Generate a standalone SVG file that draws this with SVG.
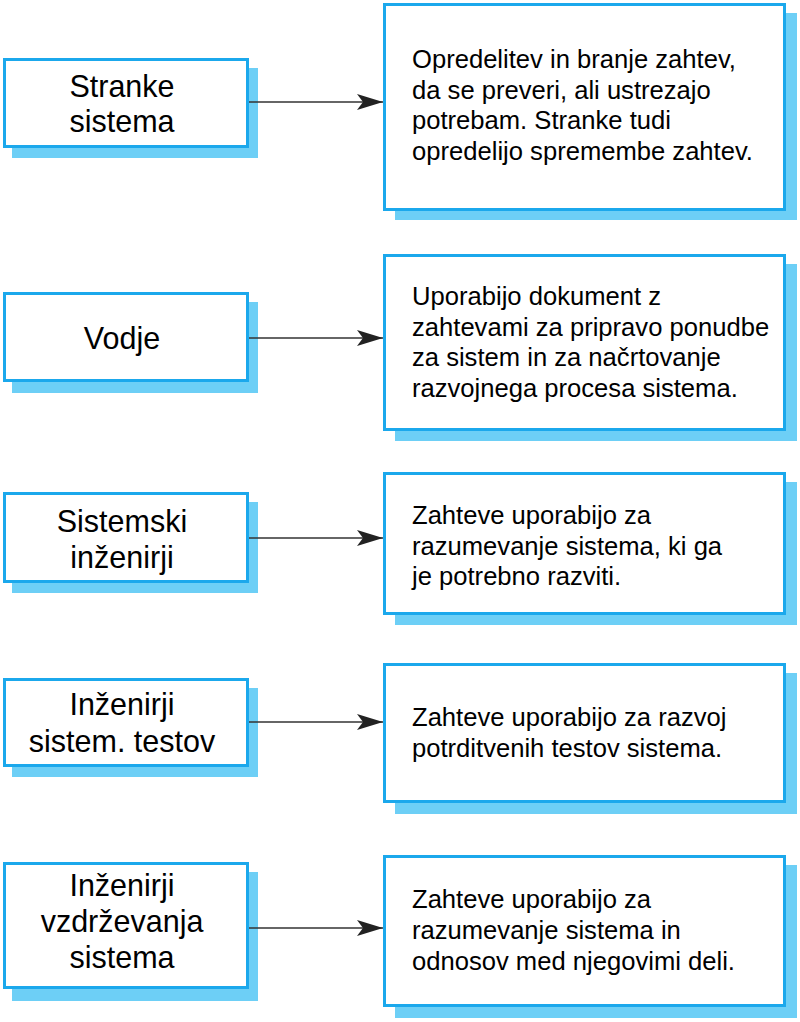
<svg xmlns="http://www.w3.org/2000/svg" width="800" height="1022" viewBox="0 0 800 1022">
<defs>
<style>
.bg{fill:#ffffff}
.shadow{fill:#6dcff6}
.box{fill:#ffffff;stroke:#1ba8ec;stroke-width:3}
.lt{font-family:"Liberation Sans",Arial,Helvetica,sans-serif;font-size:30.5px;fill:#000;text-anchor:middle}
.rt{font-family:"Liberation Sans",Arial,Helvetica,sans-serif;font-size:25.6px;fill:#000}
.conn{stroke:#333333;stroke-width:1.6;fill:none;marker-end:url(#arr)}
</style>
<marker id="arr" markerUnits="userSpaceOnUse" markerWidth="26" markerHeight="16" refX="26" refY="8" orient="auto">
<path d="M0,0 L26,8 L0,16 L6,8 Z" fill="#222222"/>
</marker>
</defs>
<rect class="bg" x="0" y="0" width="800" height="1022"/>

<g id="stranke">
<rect class="shadow" x="12" y="68" width="246" height="90"/>
<rect class="box" x="4.5" y="59.5" width="243" height="87"/>
<text class="lt" x="122" y="97">Stranke</text>
<text class="lt" x="122" y="132">sistema</text>
</g>
<g id="stranke-desc">
<rect class="shadow" x="395" y="13" width="402" height="207"/>
<rect class="box" x="384.5" y="4.5" width="400" height="205"/>
<text class="rt" x="412" y="68">Opredelitev in branje zahtev,</text>
<text class="rt" x="412" y="99">da se preveri, ali ustrezajo</text>
<text class="rt" x="412" y="129">potrebam. Stranke tudi</text>
<text class="rt" x="412" y="160">opredelijo spremembe zahtev.</text>
</g>

<g id="vodje">
<rect class="shadow" x="12" y="302" width="246" height="91"/>
<rect class="box" x="4.5" y="293.5" width="243" height="87"/>
<text class="lt" x="122" y="349">Vodje</text>
</g>
<g id="vodje-desc">
<rect class="shadow" x="395" y="264" width="402" height="177"/>
<rect class="box" x="384.5" y="255.5" width="400" height="174"/>
<text class="rt" x="412" y="305">Uporabijo dokument z</text>
<text class="rt" x="412" y="336">zahtevami za pripravo ponudbe</text>
<text class="rt" x="412" y="366">za sistem in za načrtovanje</text>
<text class="rt" x="412" y="397">razvojnega procesa sistema.</text>
</g>

<g id="sistemski">
<rect class="shadow" x="12" y="502" width="246" height="91"/>
<rect class="box" x="4.5" y="493.5" width="243" height="88"/>
<text class="lt" x="122" y="532">Sistemski</text>
<text class="lt" x="122" y="568">inženirji</text>
</g>
<g id="sistemski-desc">
<rect class="shadow" x="395" y="482" width="402" height="143"/>
<rect class="box" x="384.5" y="473.5" width="400" height="140"/>
<text class="rt" x="412" y="524">Zahteve uporabijo za</text>
<text class="rt" x="412" y="555">razumevanje sistema, ki ga</text>
<text class="rt" x="412" y="585">je potrebno razviti.</text>
</g>

<g id="testni">
<rect class="shadow" x="12" y="688" width="246" height="89"/>
<rect class="box" x="4.5" y="679.5" width="243" height="86"/>
<text class="lt" x="122" y="715">Inženirji</text>
<text class="lt" x="122" y="752">sistem. testov</text>
</g>
<g id="testni-desc">
<rect class="shadow" x="395" y="673" width="402" height="141"/>
<rect class="box" x="384.5" y="664.5" width="400" height="137"/>
<text class="rt" x="412" y="726">Zahteve uporabijo za razvoj</text>
<text class="rt" x="412" y="757">potrditvenih testov sistema.</text>
</g>

<g id="vzdrzevanje">
<rect class="shadow" x="12" y="872" width="246" height="129"/>
<rect class="box" x="4.5" y="863.5" width="243" height="124"/>
<text class="lt" x="122" y="896">Inženirji</text>
<text class="lt" x="122" y="932">vzdrževanja</text>
<text class="lt" x="122" y="968">sistema</text>
</g>
<g id="vzdrzevanje-desc">
<rect class="shadow" x="395" y="865" width="402" height="153"/>
<rect class="box" x="384.5" y="856.5" width="400" height="149"/>
<text class="rt" x="412" y="908">Zahteve uporabijo za</text>
<text class="rt" x="412" y="939">razumevanje sistema in</text>
<text class="rt" x="412" y="970">odnosov med njegovimi deli.</text>
</g>

<g id="connectors">
<line class="conn" x1="249" y1="102" x2="383" y2="102"/>
<line class="conn" x1="249" y1="338" x2="383" y2="338"/>
<line class="conn" x1="249" y1="538" x2="383" y2="538"/>
<line class="conn" x1="249" y1="722" x2="383" y2="722"/>
<line class="conn" x1="249" y1="928" x2="383" y2="928"/>
</g>
</svg>
